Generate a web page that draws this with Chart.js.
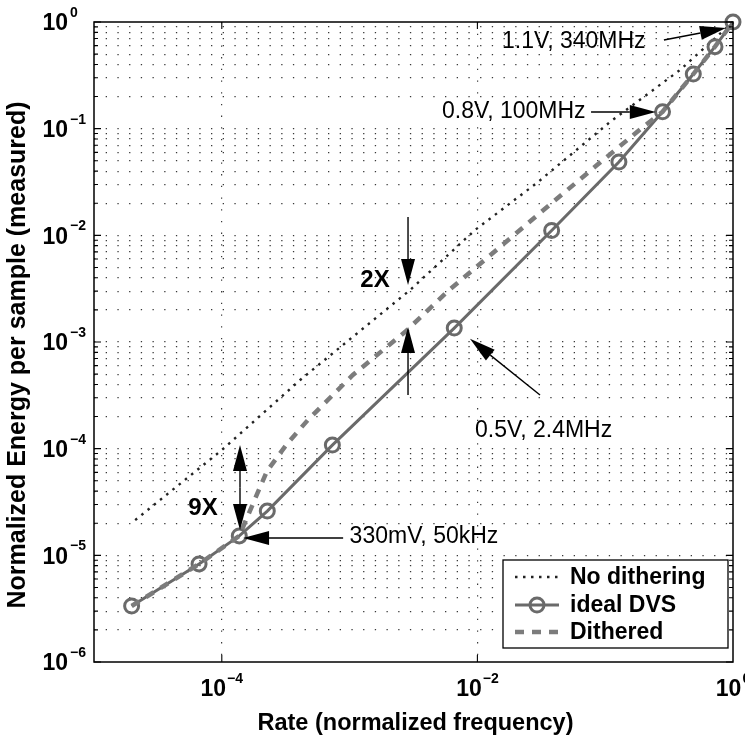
<!DOCTYPE html>
<html><head><meta charset="utf-8">
<script src="https://cdn.jsdelivr.net/npm/chart.js@4.4.0/dist/chart.umd.min.js"></script>
<style>html,body{margin:0;padding:0;background:#fff;}canvas{display:block;}</style>
</head><body>
<canvas id="c" width="745" height="735"></canvas>
<script>
const FONT = "'Liberation Sans', Arial, Helvetica, sans-serif";

// ---- data ----
const seriesNames = ['No dithering', 'ideal DVS', 'Dithered'];

const noDitherX = [2.1e-5, 1.0e-4, 4.1e-4, 2.97e-3, 9.57e-3, 0.0292, 0.109, 0.385, 1.0];
const noDitherY = [2.14e-5, 9.7e-5, 4.4e-4, 3.07e-3, 0.0112, 0.031, 0.1155, 0.355, 1.0];

const dvsX = [1.97e-5, 6.64e-5, 1.37e-4, 2.27e-4, 7.33e-4, 6.59e-3, 0.0381, 0.128, 0.281, 0.489, 0.723, 1.0];
const dvsY = [3.35e-6, 8.3e-6, 1.52e-5, 2.6e-5, 1.08e-4, 1.35e-3, 0.0111, 0.0487, 0.144, 0.325, 0.587, 1.0];

const ditherX = [1.97e-5, 6.64e-5, 1.37e-4, 1.89e-4, 2.26e-4, 3.24e-4, 4.72e-4, 1.06e-3, 2.71e-3, 5.89e-3, 0.01503, 0.0351, 0.0863, 0.198, 0.281, 0.489, 0.723, 1.0];
const ditherY = [3.35e-6, 8.3e-6, 1.52e-5, 3.76e-5, 6.18e-5, 1.11e-4, 1.86e-4, 4.91e-4, 1.24e-3, 3.01e-3, 7.78e-3, 0.01844, 0.0456, 0.1037, 0.144, 0.325, 0.587, 1.0];

// ---- axes ----
const xMin = 1e-5, xMax = 1;
const yMin = 1e-6, yMax = 1;
const xTickValues = [1e-4, 1e-2, 1];
const xTickExponents = ['\u22124', '\u22122', '0'];
const xGridValues = [1e-4, 1e-2];
const yTickValues = [1, 1e-1, 1e-2, 1e-3, 1e-4, 1e-5, 1e-6];
const yTickExponents = ['0', '\u22121', '\u22122', '\u22123', '\u22124', '\u22125', '\u22126'];
const yMinorMultipliers = [2, 3, 4, 5, 6, 7, 8, 9];
const xTitle = 'Rate (normalized frequency)';
const yTitle = 'Normalized Energy per sample (measured)';

// ---- annotations (data coordinates) ----
const noteLabels = [
  { text: '1.1V, 340MHz', x: 0.01557, y: 0.649, bold: false, align: 'left' },
  { text: '0.8V, 100MHz', x: 5.28e-3, y: 0.1433, bold: false, align: 'left' },
  { text: '0.5V, 2.4MHz', x: 0.00957, y: 1.465e-4, bold: false, align: 'left' },
  { text: '330mV, 50kHz', x: 1.0e-3, y: 1.486e-5, bold: false, align: 'left' },
  { text: '2X', x: 1.58e-3, y: 3.81e-3, bold: true, align: 'center' },
  { text: '9X', x: 7.13e-5, y: 2.78e-5, bold: true, align: 'center' }
];
const noteArrows = [
  { from: [0.288, 0.678], to: [0.881, 0.878] },
  { from: [0.0775, 0.1433], to: [0.249, 0.1433] },
  { from: [0.0309, 3.19e-4], to: [0.00875, 1.07e-3] },
  { from: [8.9e-4, 1.454e-5], to: [1.466e-4, 1.454e-5] },
  { from: [2.865e-3, 0.01485], to: [2.865e-3, 3.42e-3] },
  { from: [2.865e-3, 3.19e-4], to: [2.865e-3, 1.383e-3] },
  { from: [1.388e-4, 4.33e-5], to: [1.388e-4, 1.083e-4] },
  { from: [1.388e-4, 4.33e-5], to: [1.388e-4, 1.728e-5] }
];

function pts(xs, ys) { return xs.map((x, i) => ({ x: x, y: ys[i] })); }

const yGridTicks = [];
yTickValues.forEach(v => {
  yGridTicks.push(v);
  if (v < yMax) yMinorMultipliers.forEach(m => { if (v * m < yMax) yGridTicks.push(v * m); });
});

function arrow(ctx, x1, y1, x2, y2) {
  const headLen = 26, headW = 7;
  const a = Math.atan2(y2 - y1, x2 - x1);
  const bx = x2 - headLen * Math.cos(a), by = y2 - headLen * Math.sin(a);
  ctx.beginPath(); ctx.moveTo(x1, y1); ctx.lineTo(bx, by); ctx.stroke();
  ctx.beginPath(); ctx.moveTo(x2, y2);
  ctx.lineTo(bx + headW * Math.sin(a), by - headW * Math.cos(a));
  ctx.lineTo(bx - headW * Math.sin(a), by + headW * Math.cos(a));
  ctx.closePath(); ctx.fill();
}

const decor = {
  id: 'decor',
  afterDatasetsDraw(chart) {
    const ctx = chart.ctx, xs = chart.scales.x, ys = chart.scales.y, ca = chart.chartArea;
    ctx.save();
    ctx.strokeStyle = '#000'; ctx.fillStyle = '#000'; ctx.lineWidth = 1.4; ctx.setLineDash([]);
    noteArrows.forEach(a => {
      arrow(ctx, xs.getPixelForValue(a.from[0]), ys.getPixelForValue(a.from[1]),
                 xs.getPixelForValue(a.to[0]), ys.getPixelForValue(a.to[1]));
    });
    noteLabels.forEach(l => {
      ctx.font = (l.bold ? 'bold 24px ' : '23px ') + FONT;
      ctx.textAlign = l.align; ctx.textBaseline = 'middle';
      ctx.fillText(l.text, xs.getPixelForValue(l.x), ys.getPixelForValue(l.y));
    });
    // legend
    const bw = 225, bh = 88;
    const bl = ca.right - 230, bt = ca.bottom - 102;
    ctx.fillStyle = '#fff'; ctx.fillRect(bl, bt, bw, bh);
    ctx.strokeStyle = '#000'; ctx.lineWidth = 1.3; ctx.strokeRect(bl, bt, bw, bh);
    const rows = [bt + 17, bt + 45, bt + 72];
    chart.data.datasets.forEach((ds, i) => {
      const yy = rows[i];
      ctx.save();
      ctx.strokeStyle = ds.borderColor; ctx.lineWidth = ds.borderWidth;
      ctx.setLineDash(ds.borderDash || []); ctx.lineCap = 'butt';
      ctx.beginPath(); ctx.moveTo(bl + 12, yy); ctx.lineTo(bl + 56, yy); ctx.stroke();
      if (ds.pointRadius > 0) {
        ctx.setLineDash([]); ctx.lineWidth = ds.pointBorderWidth; ctx.strokeStyle = ds.pointBorderColor;
        ctx.beginPath(); ctx.arc(bl + 34, yy, ds.pointRadius, 0, Math.PI * 2); ctx.stroke();
      }
      ctx.restore();
      ctx.fillStyle = '#000'; ctx.font = 'bold 23px ' + FONT;
      ctx.textAlign = 'left'; ctx.textBaseline = 'middle';
      ctx.fillText(ds.label, bl + 67, yy + 1);
    });
    ctx.restore();
  },
  afterDraw(chart) {
    const ctx = chart.ctx, xs = chart.scales.x, ys = chart.scales.y, ca = chart.chartArea;
    ctx.save();
    ctx.strokeStyle = '#000'; ctx.lineWidth = 1.5; ctx.setLineDash([]);
    ctx.strokeRect(ca.left, ca.top, ca.right - ca.left, ca.bottom - ca.top);
    ctx.lineWidth = 1.1;
    ctx.beginPath();
    yGridTicks.forEach(v => {
      const py = ys.getPixelForValue(v);
      const len = yTickValues.includes(v) ? 7 : 4;
      ctx.moveTo(ca.left, py); ctx.lineTo(ca.left + len, py);
      ctx.moveTo(ca.right, py); ctx.lineTo(ca.right - len, py);
    });
    xGridValues.forEach(v => {
      const px = xs.getPixelForValue(v);
      ctx.moveTo(px, ca.bottom); ctx.lineTo(px, ca.bottom - 7);
      ctx.moveTo(px, ca.top); ctx.lineTo(px, ca.top + 7);
    });
    ctx.stroke();
    ctx.fillStyle = '#000';
    yTickValues.forEach((v, i) => {
      const py = ys.getPixelForValue(v);
      ctx.font = 'bold 23px ' + FONT; ctx.textAlign = 'right'; ctx.textBaseline = 'middle';
      ctx.fillText('10', ca.left - 26, py + 2);
      ctx.font = 'bold 14px ' + FONT; ctx.textAlign = 'left';
      ctx.fillText(yTickExponents[i], ca.left - 24, py - 9);
    });
    xTickValues.forEach((v, i) => {
      const px = xs.getPixelForValue(v);
      ctx.font = 'bold 23px ' + FONT;
      const w1 = ctx.measureText('10').width;
      ctx.font = 'bold 14px ' + FONT;
      const w2 = ctx.measureText(xTickExponents[i]).width;
      const start = px - (w1 + w2 + 1) / 2;
      ctx.font = 'bold 23px ' + FONT; ctx.textAlign = 'left'; ctx.textBaseline = 'middle';
      ctx.fillText('10', start, ca.bottom + 28);
      ctx.font = 'bold 14px ' + FONT;
      ctx.fillText(xTickExponents[i], start + w1 + 1, ca.bottom + 17);
    });
    ctx.font = 'bold 23.5px ' + FONT; ctx.textAlign = 'center'; ctx.textBaseline = 'alphabetic';
    ctx.fillText(xTitle, (ca.left + ca.right) / 2 + 2, ca.bottom + 68);
    ctx.save();
    ctx.translate(25, 355); ctx.rotate(-Math.PI / 2);
    ctx.font = 'bold 25px ' + FONT;
    ctx.fillText(yTitle, 0, 0);
    ctx.restore();
    ctx.restore();
  }
};

new Chart(document.getElementById('c'), {
  type: 'scatter',
  data: {
    datasets: [
      { label: seriesNames[0], data: pts(noDitherX, noDitherY), showLine: true,
        borderColor: '#222222', borderWidth: 2.4, borderDash: [2.5, 5.5], borderCapStyle: 'butt',
        pointRadius: 0, pointHoverRadius: 0, clip: false, order: 3 },
      { label: seriesNames[1], data: pts(dvsX, dvsY), showLine: true,
        borderColor: '#6a6a6a', borderWidth: 3, pointRadius: 7, pointBorderWidth: 3,
        pointBorderColor: '#6a6a6a', pointBackgroundColor: 'rgba(0,0,0,0)', pointStyle: 'circle',
        clip: false, order: 2 },
      { label: seriesNames[2], data: pts(ditherX, ditherY), showLine: true,
        borderColor: '#7c7c7c', borderWidth: 4.5, borderDash: [9, 8], borderCapStyle: 'butt',
        pointRadius: 0, pointHoverRadius: 0, clip: false, order: 1 }
    ]
  },
  options: {
    responsive: false, animation: false, devicePixelRatio: 1,
    layout: { padding: { left: 94, right: 12, top: 22, bottom: 73 } },
    plugins: { legend: { display: false }, tooltip: { enabled: false } },
    scales: {
      x: {
        type: 'logarithmic', min: xMin, max: xMax,
        afterBuildTicks: s => { s.ticks = [xMin].concat(xGridValues, [xMax]).map(v => ({ value: v })); },
        ticks: { display: false },
        grid: { drawTicks: false, lineWidth: 1.2,
          color: c => (c.tick && xGridValues.includes(c.tick.value)) ? '#3a3a3a' : 'rgba(0,0,0,0)' },
        border: { display: false, dash: [1.3, 10.4] }
      },
      y: {
        type: 'logarithmic', min: yMin, max: yMax,
        afterBuildTicks: s => { s.ticks = yGridTicks.slice().sort((a, b) => a - b).map(v => ({ value: v })); },
        ticks: { display: false },
        grid: { drawTicks: false, lineWidth: 1.2,
          color: c => (c.tick && c.tick.value > yMin && c.tick.value < yMax) ? '#3a3a3a' : 'rgba(0,0,0,0)' },
        border: { display: false, dash: [1.3, 10.4] }
      }
    }
  },
  plugins: [decor]
});
</script>
</body></html>
